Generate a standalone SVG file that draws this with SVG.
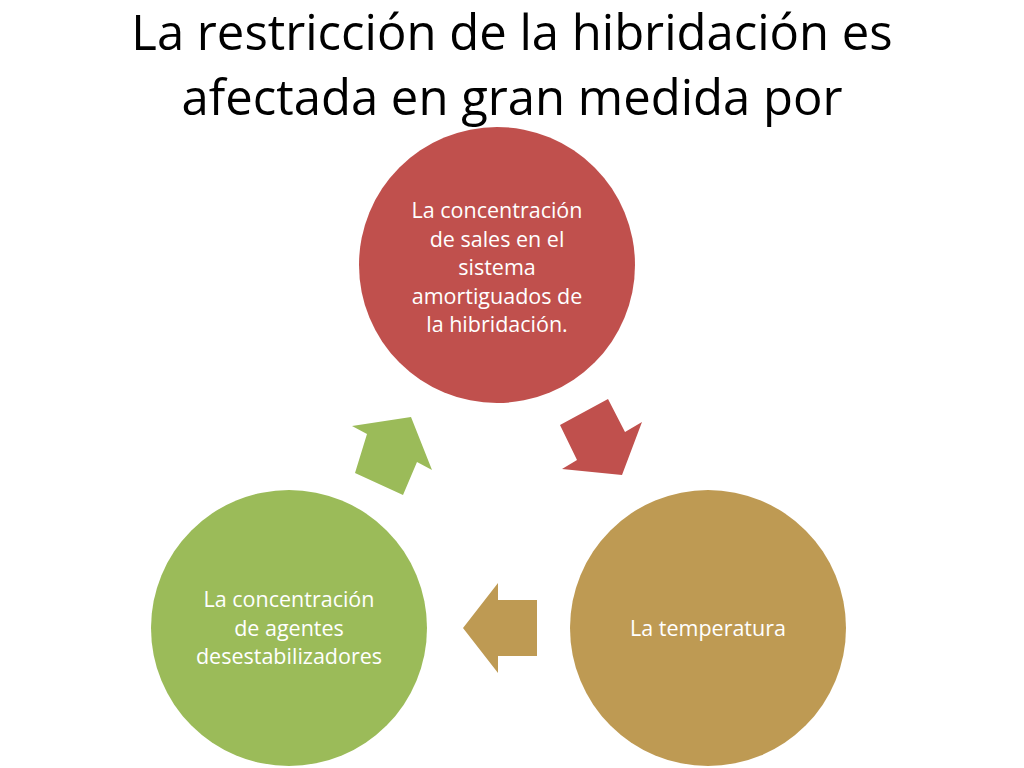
<svg xmlns="http://www.w3.org/2000/svg" width="1024" height="768" viewBox="0 0 1024 768">
<style>
.title{font-family:"Open Sans","Liberation Sans",sans-serif;font-size:49px;fill:#000;text-anchor:middle}
.lbl{font-family:"Open Sans","Liberation Sans",sans-serif;font-size:21.5px;fill:#fff;text-anchor:middle}
</style>
<rect width="1024" height="768" fill="#fff"/>
<text class="title" x="512" y="50">La restricción de la hibridación es</text>
<text class="title" x="512" y="115">afectada en gran medida por</text>
<g id="connectors">
<polygon fill="#C0504D" points="560,425 608,399 625,432 642,422 622,475 562,469 577,460"/>
<polygon fill="#BE9A53" points="463,628 498,583 498,600 537,600 537,656 498,656 498,673"/>
<polygon fill="#9BBB59" points="411,417 432,470 417,462 403,495 355,473 367,434 352,426"/>
</g>
<g id="n1">
<circle cx="497" cy="265" r="138" fill="#C0504D"/>
<text class="lbl" x="497" y="218">La concentración<tspan x="497" dy="28.6">de sales en el</tspan><tspan x="497" dy="28.6">sistema</tspan><tspan x="497" dy="28.6">amortiguados de</tspan><tspan x="497" dy="28.6">la hibridación.</tspan></text>
</g>
<g id="n2">
<circle cx="708" cy="628" r="138" fill="#BE9A53"/>
<text class="lbl" x="708" y="636">La temperatura</text>
</g>
<g id="n3">
<circle cx="289" cy="628" r="138" fill="#9BBB59"/>
<text class="lbl" x="289" y="607">La concentración<tspan x="289" dy="28.6">de agentes</tspan><tspan x="289" dy="28.6">desestabilizadores</tspan></text>
</g>
</svg>
